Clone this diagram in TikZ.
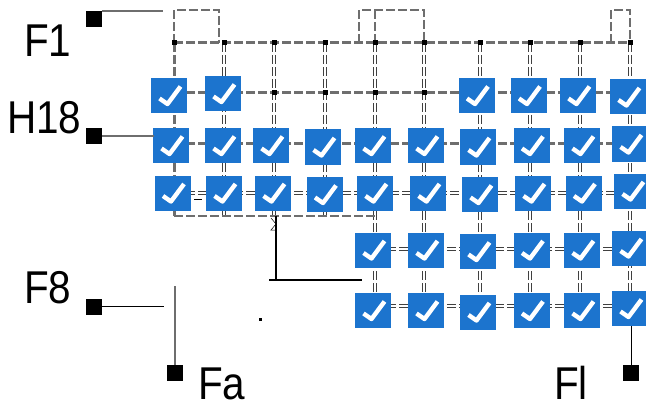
\documentclass[tikz,border=0pt]{standalone}
\usepackage{fontspec}
\setmainfont{Liberation Sans}
\definecolor{check_blue}{RGB}{28,116,206}
\definecolor{rail_gray}{RGB}{110,110,110}

\begin{document}
\begin{tikzpicture}[
                    x=1pt, y=-1pt,
                    check_node/.style={rectangle, fill=check_blue, inner sep=0pt, minimum width=36pt, minimum height=35pt,
                        path picture={
                            \draw[white, line width=4.4pt, line join=round]
                                ([shift={(-9.5pt,-3pt)}]path picture bounding box.center)
                                -- ([shift={(-1.5pt,-8.5pt)}]path picture bounding box.center)
                                -- ([shift={(11.5pt,9pt)}]path picture bounding box.center);
                        }},
                    pin_node/.style={rectangle, fill=black, inner sep=0pt, minimum size=16pt},
                    dot_node/.style={rectangle, fill=black, inner sep=0pt, minimum size=5pt},
                    name_node/.style={inner sep=0pt, font=\fontsize{46}{46}\selectfont, xscale=0.88},
                    rail_line/.style={draw=rail_gray, line width=3pt, dash pattern=on 9pt off 3pt},
                    double_line/.style={draw=black!75, line width=3.4pt, dash pattern=on 9pt off 3pt,
                        postaction={draw=white, line width=1.2pt, solid}},
                    loop_line/.style={draw=rail_gray, line width=2.4pt, dash pattern=on 9pt off 3pt},
                    stub_line/.style={draw=rail_gray, line width=1.2pt},
                    wire_line/.style={draw=black, line width=0.9pt}
                ]
                    \useasboundingbox (0,0) rectangle (646,412);

                    % grid points
                    \foreach \c/\x in {1/174, 2/224, 3/274, 4/325, 5/375, 6/424, 7/480, 8/530, 9/580, 10/630} {
                        \foreach \r/\y in {1/43, 2/93, 3/143, 4/193, 5/249, 6/306} {
                            \coordinate (g\c-\r) at (\x,\y);
                        }
                        \coordinate (base\c) at (\x,216);
                        \coordinate (top\c) at (\x,10);
                    }
                    \coordinate (loop_a_top) at (219,10);
                    \coordinate (loop_a_low) at (219,43);
                    \coordinate (loop_b_top) at (359,10);
                    \coordinate (loop_b_low) at (359,43);
                    \coordinate (loop_c_top) at (611,10);
                    \coordinate (loop_c_low) at (611,43);
                    \coordinate (wire_top) at (276,216);
                    \coordinate (wire_corner) at (276,280);
                    \coordinate (wire_left) at (269,280);
                    \coordinate (wire_right) at (362,280);

                    % columns
                    \draw[rail_line] (g1-1) -- (base1);
                    \foreach \c in {2,3,4} {
                        \draw[double_line] (g\c-1) -- (base\c);
                    }
                    \foreach \c in {5,6,7,8,9,10} {
                        \draw[double_line] (g\c-1) -- (g\c-6);
                    }

                    % rows
                    \foreach \r in {1,2,3} {
                        \draw[rail_line] (g1-\r) -- (g10-\r);
                    }
                    \draw[double_line] (g1-4) -- (g10-4);
                    \draw[double_line] (g5-5) -- (g10-5);
                    \draw[double_line] (g5-6) -- (g10-6);
                    \draw[loop_line] (base1) -- (base5);

                    % top loops
                    \draw[loop_line] (g1-1) -- (top1) -- (loop_a_top) -- (loop_a_low);
                    \draw[loop_line] (loop_b_low) -- (loop_b_top) -- (top6) -- (g6-1);
                    \draw[loop_line] (g5-1) -- (top5);
                    \draw[loop_line] (loop_c_low) -- (loop_c_top) -- (top10) -- (g10-1);

                    % junctions
                    \foreach \c in {1,...,10} {
                        \node[dot_node] (dot\c-1) at (g\c-1) {};
                    }
                    \foreach \c in {3,4,5,6} {
                        \node[dot_node] (dot\c-2) at (g\c-2) {};
                    }

                    % wire under the grid
                    \draw[wire_line, line width=1.4pt] (wire_top) -- (wire_corner);
                    \draw[wire_line, line width=1.4pt] (wire_left) -- (wire_right);
                    \draw[wire_line, line width=0.5pt] (271,218) -- (276,224) -- (271,230) -- (276,230);
                    \draw[wire_line, line width=0.5pt] (194,199) -- (202,199);
                    \node[rectangle, fill=black, inner sep=0pt, minimum size=3pt] (speck) at (260,319) {};

                    % check boxes
                    \foreach \name/\x/\y in {
                        a1/169/95.5, a2/223/93.5, a7/476.5/95.5, a8/528.5/95.5, a9/578/95.5, a10/628/97,
                        b1/171/145.5, b2/223/145.5, b3/271/145.5, b4/323/147, b5/373/145.5, b6/426/145.5, b7/478/147, b8/531.5/145.5, b9/582/145.5, b10/630/144,
                        d1/172.5/193, d2/224/193, d3/273/193, d4/324.5/194.5, d5/375/193, d6/428/193, d7/480/194.5, d8/533/193, d9/583.5/193, d10/632/191,
                        e5/373/250, e6/426/250, e7/478/251.5, e8/531.5/250, e9/582/250, e10/630/248,
                        f5/373/310.5, f6/426/310.5, f7/478/312, f8/531.5/310.5, f9/582/310.5, f10/630/308.5} {
                        \node[check_node] (\name) at (\x,\y) {};
                    }

                    % pins
                    \node[pin_node] (pin_top) at (94,19) {};
                    \node[pin_node] (pin_row) at (94,136) {};
                    \node[pin_node] (pin_low) at (94,306.5) {};
                    \node[pin_node] (pin_a) at (175,373) {};
                    \node[pin_node] (pin_l) at (631,373) {};
                    \coordinate (pin_top_start) at (102,11);
                    \coordinate (pin_top_end) at (163,11);
                    \coordinate (pin_row_end) at (154,136);
                    \coordinate (pin_low_end) at (164,306.5);
                    \coordinate (pin_a_end) at (175,286);
                    \coordinate (pin_l_end) at (631,326);

                    \draw[stub_line] (pin_top_start) -- (pin_top_end);
                    \draw[stub_line] (pin_row) -- (pin_row_end);
                    \draw[wire_line] (pin_low) -- (pin_low_end);
                    \draw[stub_line] (pin_a) -- (pin_a_end);
                    \draw[wire_line] (pin_l) -- (pin_l_end);

                    % names
                    \node[name_node, anchor=base west] (name_top) at (24,57) {F1};
                    \node[name_node, anchor=base west] (name_row) at (7,134) {H18};
                    \node[name_node, anchor=base west] (name_low) at (24,303) {F8};
                    \node[name_node, anchor=base west] (name_a) at (198,399) {Fa};
                    \node[name_node, anchor=base west] (name_l) at (554,399) {Fl};
                \end{tikzpicture}
\end{document}
